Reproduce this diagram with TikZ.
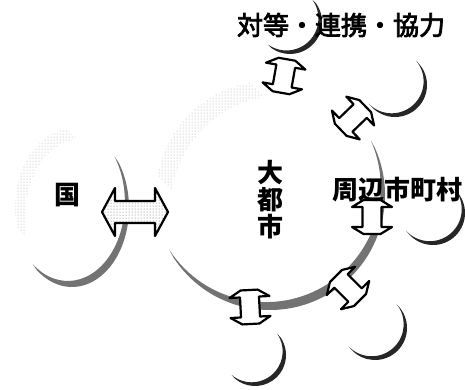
\documentclass[tikz,border=0pt]{standalone}
\usepackage{fontspec}
\newfontfamily\cjk{Noto Sans CJK JP}
\newfontfamily\cjkmed{Noto Sans CJK JP}[FakeBold=3]
\usetikzlibrary{patterns}
\newcommand\mooncres[6]{% style, centre, radius, start, end, offset
  \pgfmathsetmacro\mmid{(#4+#5)/2+180}%
  \fill[#1] (#2) ++(#4:#3) arc[start angle=#4,end angle=#5,radius=#3]
    -- ++(\mmid:#6) arc[start angle=#5,end angle=#4,radius=#3] -- cycle;}
\newcommand\linkarrow[2]{% centre, angle
  \begin{scope}[shift={(#1)},rotate=#2]
    \draw[linkarr] (-17,8.5) -- (-10,20) -- (-10,9.5) -- (10,9.5) -- (10,20) -- (17,8.5)
      -- (17,-8.5) -- (10,-20) -- (10,-9.5) -- (-10,-9.5) -- (-10,-20) -- (-17,-8.5) -- cycle;
  \end{scope}}
\begin{document}
\begin{tikzpicture}[x=1pt,y=1pt,
  moon/.style={fill=black!85},
  bigmoon/.style={fill=black!55},
  haze/.style={pattern=dots,pattern color=black!35},
  linkarr/.style={draw=black,line width=2.2pt,fill=white,line join=round},
  lbl/.style={font=\cjk\bfseries\fontsize{26}{27}\selectfont,inner sep=0pt}]
\useasboundingbox (0,0) rectangle (465,389);
% light highlights
\mooncres{haze}{270,194}{114}{100}{170}{20}
\begin{scope}[shift={(72,181)},yscale=1.386]
  \mooncres{haze}{0,0}{57}{95}{195}{12}
  \mooncres{bigmoon}{0,0}{57}{35}{-128}{6}
\end{scope}
% big city rim
\mooncres{bigmoon}{270,194}{115}{24}{-147}{9}
% surrounding municipalities
\mooncres{moon}{290,367}{32}{35}{-125}{5}
\mooncres{moon}{395,304}{32}{41}{-136}{5}
\mooncres{moon}{433,176}{32}{39}{-138}{5}
\mooncres{moon}{375,61}{32}{39}{-136}{5}
\mooncres{moon}{255,34}{31}{34}{-130}{5}
% link arrows
\linkarrow{284,313}{80}
\linkarrow{353,271}{44}
\linkarrow{372,172}{90}
\linkarrow{348,101}{-45}
\linkarrow{250,82}{-87}
% national arrow
\begin{scope}[shift={(135,177)}]
  \draw[line width=2.2pt,line join=round,preaction={fill=white},
        pattern=dots,pattern color=black!60]
    (-33,0) -- (-20,24) -- (-20,11) -- (20,11) -- (20,24) -- (33,0)
    -- (20,-24) -- (20,-11) -- (-20,-11) -- (-20,-24) -- cycle;
\end{scope}
% labels
\node[lbl] (koku) at (67,194) {国};
\node[lbl,align=center] (dai) at (270,189) {大\\都\\市};
\node[lbl] (shuhen) at (397,199) {周辺市町村};
\node[font=\cjkmed\fontsize{26}{27}\selectfont,inner sep=0pt] (taito) at (341,364) {対等・連携・協力};
\end{tikzpicture}
\end{document}
